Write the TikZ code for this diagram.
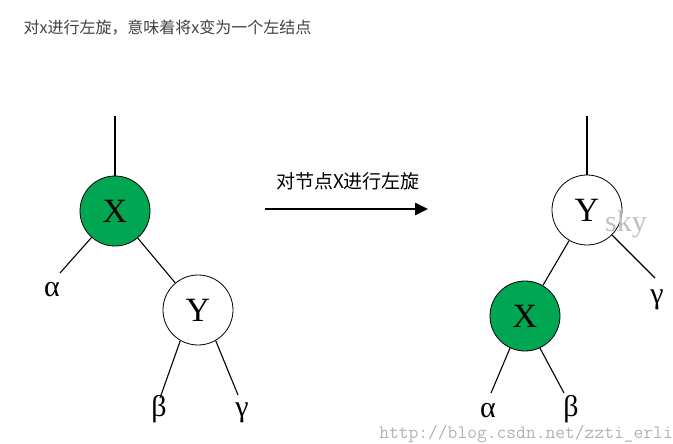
\documentclass[tikz,border=0pt]{standalone}
\usepackage{fontspec}
\newfontfamily\cjk{Noto Sans CJK SC}
\newfontfamily\grk{Liberation Serif}
\usetikzlibrary{arrows.meta}
\definecolor{tgreen}{RGB}{0,166,81}
\begin{document}
\begin{tikzpicture}[x=1pt,y=-1pt,
  nd/.style={circle,draw,line width=0.8pt,minimum size=70pt,inner sep=0pt,font=\grk\fontsize{34}{34}\selectfont},
  gn/.style={nd,fill=tgreen},
  wn/.style={nd,fill=white},
  ln/.style={line width=1.1pt},
  lab/.style={font=\grk\fontsize{30}{30}\selectfont}]
\useasboundingbox (0,0) rectangle (673,444);
\node[anchor=west,text=black!75,font=\cjk\fontsize{16}{16}\selectfont] (title) at (20,28) {对x进行左旋，意味着将x变为一个左结点};
% left tree
\coordinate (lt) at (115,116);
\node[gn] (x1) at (115,211) {X};
\node[wn] (y1) at (198,310) {Y};
\coordinate (la) at (60,273);
\coordinate (lb) at (160,398);
\coordinate (lc) at (238,395);
\node[lab] (a1) at (52,290) {α};
\node[lab] (b1) at (159,409) {β};
\node[lab] (c1) at (242,413) {γ};
\draw[ln] (lt) -- (x1);
\draw[ln] (x1) -- (la);
\draw[ln] (x1) -- (y1);
\draw[ln] (y1.240) -- (lb);
\draw[ln] (y1.300) -- (lc);
% arrow
\coordinate (as) at (265,209);
\coordinate (ae) at (428,209);
\draw[line width=2.5pt,-{Triangle[length=13pt,width=12pt]}] (as) -- (ae);
\node[font=\cjk\fontsize{19}{19}\selectfont] (al) at (348,181) {对节点X进行左旋};
% right tree
\coordinate (rt) at (587,116);
\node[wn] (y2) at (587,210) {Y};
\node[gn] (x2) at (525,316) {X};
\coordinate (rc) at (655,278);
\coordinate (ra) at (491,393);
\coordinate (rb) at (564,393);
\node[lab] (c2) at (657,300) {γ};
\node[lab] (a2) at (488,411) {α};
\node[lab] (b2) at (571,409) {β};
\draw[ln] (rt) -- (y2);
\draw[ln] (y2) -- (rc);
\draw[ln] (y2) -- (x2);
\draw[ln] (x2.245) -- (ra);
\draw[ln] (x2.295) -- (rb);
% watermarks
\node[text=black!25,font=\grk\fontsize{30}{30}\selectfont] (sky) at (626,224) {sky};
\node[anchor=south east,inner sep=0pt,text=black!30,font=\ttfamily\fontsize{19}{19}\selectfont] (url) at (673,443) {http://blog.csdn.net/zzti\_erli};
\end{tikzpicture}
\end{document}
